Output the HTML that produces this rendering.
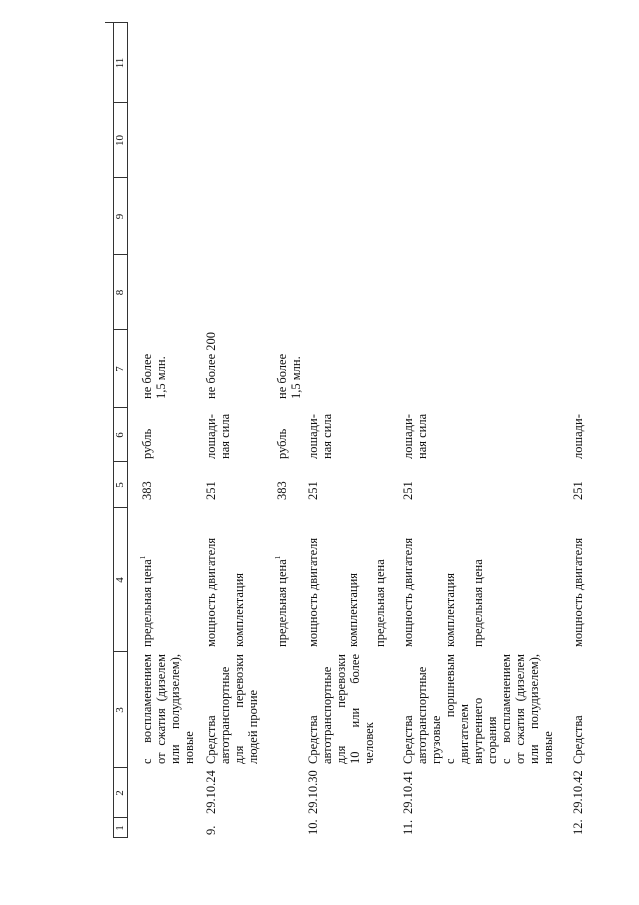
<!DOCTYPE html>
<html><head><meta charset="utf-8">
<style>
html,body{margin:0;padding:0;background:#fff;}
body{width:639px;height:905px;overflow:hidden;position:relative;}
#pg{position:absolute;left:0;top:0;width:905px;height:639px;transform-origin:0 0;transform:translate(0,905px) rotate(-90deg);font-family:"Liberation Serif",serif;font-size:12.5px;color:#111;}
.t{position:absolute;line-height:14px;white-space:nowrap;}
.j{position:absolute;line-height:14px;text-align:justify;text-align-last:justify;white-space:nowrap;}
.hl{position:absolute;height:1px;background:#333;}
.vl{position:absolute;width:1px;background:#333;}
.h{position:absolute;top:113px;height:14px;line-height:14px;text-align:center;font-size:11px;}
sup{font-size:7px;vertical-align:top;line-height:7px;}
</style></head><body>
<div id="pg">
<div class="hl" style="left:67px;width:815px;top:113px"></div>
<div class="hl" style="left:67px;width:815px;top:127px"></div>
<div class="vl" style="left:67px;top:113px;height:15px"></div>
<div class="vl" style="left:87px;top:113px;height:14px"></div>
<div class="vl" style="left:137px;top:113px;height:14px"></div>
<div class="vl" style="left:253px;top:113px;height:14px"></div>
<div class="vl" style="left:397px;top:113px;height:14px"></div>
<div class="vl" style="left:443px;top:113px;height:14px"></div>
<div class="vl" style="left:497px;top:113px;height:14px"></div>
<div class="vl" style="left:575px;top:113px;height:14px"></div>
<div class="vl" style="left:650px;top:113px;height:14px"></div>
<div class="vl" style="left:727px;top:113px;height:14px"></div>
<div class="vl" style="left:802px;top:113px;height:14px"></div>
<div class="vl" style="left:882px;top:105px;height:23px"></div>
<div class="h" style="left:67px;width:20px">1</div>
<div class="h" style="left:87px;width:50px">2</div>
<div class="h" style="left:137px;width:116px">3</div>
<div class="h" style="left:253px;width:144px">4</div>
<div class="h" style="left:397px;width:46px">5</div>
<div class="h" style="left:443px;width:54px">6</div>
<div class="h" style="left:497px;width:78px">7</div>
<div class="h" style="left:575px;width:75px">8</div>
<div class="h" style="left:650px;width:77px">9</div>
<div class="h" style="left:727px;width:75px">10</div>
<div class="h" style="left:802px;width:80px">11</div>

<div class="t" style="left:864px;top:780px;font-size:13px">7</div>

<div class="j" style="left:141px;top:140px;width:110px">с воспламенением</div>
<div class="j" style="left:141px;top:154px;width:110px">от сжатия (дизелем</div>
<div class="j" style="left:141px;top:168px;width:110px">или полудизелем),</div>
<div class="t" style="left:141px;top:182px">новые</div>
<div class="t" style="left:258px;top:140px">предельная цена<sup>1</sup></div>
<div class="t" style="left:405px;top:140px">383</div>
<div class="t" style="left:446px;top:140px">рубль</div>
<div class="t" style="left:506px;top:140px">не более</div>
<div class="t" style="left:506px;top:154px">1,5 млн.</div>

<div class="t" style="left:70px;top:204px">9.</div>
<div class="t" style="left:91px;top:204px">29.10.24</div>
<div class="t" style="left:141px;top:204px">Средства</div>
<div class="t" style="left:141px;top:218px">автотранспортные</div>
<div class="j" style="left:141px;top:232px;width:110px">для перевозки</div>
<div class="t" style="left:141px;top:246px">людей прочие</div>
<div class="t" style="left:258px;top:204px">мощность двигателя</div>
<div class="t" style="left:258px;top:232px">комплектация</div>
<div class="t" style="left:258px;top:275px">предельная цена<sup>1</sup></div>
<div class="t" style="left:405px;top:204px">251</div>
<div class="t" style="left:405px;top:275px">383</div>
<div class="t" style="left:446px;top:204px">лошади-</div>
<div class="t" style="left:446px;top:218px">ная сила</div>
<div class="t" style="left:446px;top:275px">рубль</div>
<div class="t" style="left:506px;top:204px">не более 200</div>
<div class="t" style="left:506px;top:275px">не более</div>
<div class="t" style="left:506px;top:289px">1,5 млн.</div>

<div class="t" style="left:70px;top:306px">10.</div>
<div class="t" style="left:91px;top:306px">29.10.30</div>
<div class="t" style="left:141px;top:306px">Средства</div>
<div class="t" style="left:141px;top:320px">автотранспортные</div>
<div class="j" style="left:141px;top:334px;width:110px">для перевозки</div>
<div class="j" style="left:141px;top:348px;width:110px">10 или более</div>
<div class="t" style="left:141px;top:362px">человек</div>
<div class="t" style="left:258px;top:306px">мощность двигателя</div>
<div class="t" style="left:258px;top:346px">комплектация</div>
<div class="t" style="left:258px;top:373px">предельная цена</div>
<div class="t" style="left:405px;top:306px">251</div>
<div class="t" style="left:446px;top:306px">лошади-</div>
<div class="t" style="left:446px;top:320px">ная сила</div>

<div class="t" style="left:70px;top:401px">11.</div>
<div class="t" style="left:91px;top:401px">29.10.41</div>
<div class="t" style="left:141px;top:401px">Средства</div>
<div class="t" style="left:141px;top:415px">автотранспортные</div>
<div class="t" style="left:141px;top:429px">грузовые</div>
<div class="j" style="left:141px;top:443px;width:110px">с поршневым</div>
<div class="t" style="left:141px;top:457px">двигателем</div>
<div class="t" style="left:141px;top:471px">внутреннего</div>
<div class="t" style="left:141px;top:485px">сгорания</div>
<div class="j" style="left:141px;top:499px;width:110px">с воспламенением</div>
<div class="j" style="left:141px;top:513px;width:110px">от сжатия (дизелем</div>
<div class="j" style="left:141px;top:527px;width:110px">или полудизелем),</div>
<div class="t" style="left:141px;top:541px">новые</div>
<div class="t" style="left:258px;top:401px">мощность двигателя</div>
<div class="t" style="left:258px;top:443px">комплектация</div>
<div class="t" style="left:258px;top:471px">предельная цена</div>
<div class="t" style="left:405px;top:401px">251</div>
<div class="t" style="left:446px;top:401px">лошади-</div>
<div class="t" style="left:446px;top:415px">ная сила</div>

<div class="t" style="left:70px;top:571px">12.</div>
<div class="t" style="left:91px;top:571px">29.10.42</div>
<div class="t" style="left:141px;top:571px">Средства</div>
<div class="t" style="left:258px;top:571px">мощность двигателя</div>
<div class="t" style="left:405px;top:571px">251</div>
<div class="t" style="left:446px;top:571px">лошади-</div>
</div>
</body></html>
